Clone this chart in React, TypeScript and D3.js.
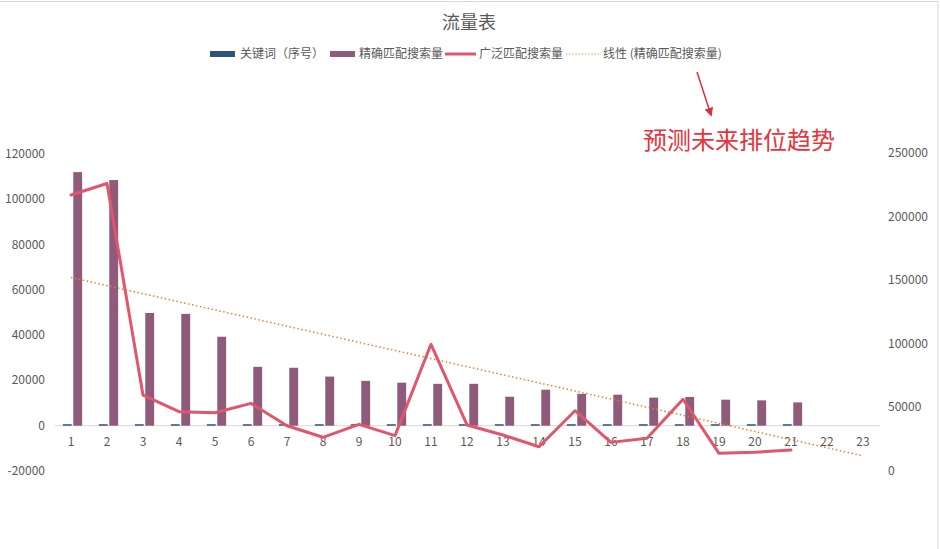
import * as d3 from 'd3';

// categories on the x axis (21 with data, 2 forecast periods)
const categories = d3.range(1, 24).map(String);
const dataCount = 21;

// 关键词（序号）
const keywordIndex = [1, 2, 3, 4, 5, 6, 7, 8, 9, 10, 11, 12, 13, 14, 15, 16, 17, 18, 19, 20, 21];
// 精确匹配搜索量 (left axis)
const exactSearch = [
  112000, 108500, 49800, 49400, 39300, 26000, 25600, 21700, 19800, 19000, 18500,
  18500, 12800, 15900, 14100, 13700, 12400, 12700, 11500, 11200, 10300,
];
// 广泛匹配搜索量 (right axis)
const broadSearch = [
  217000, 226000, 59700, 46600, 45800, 53200, 35600, 26500, 36700, 27800, 99600,
  36200, 28300, 19100, 47400, 22500, 25700, 56400, 13900, 14700, 16500,
];

const leftTicks = [-20000, 0, 20000, 40000, 60000, 80000, 100000, 120000];
const rightTicks = [0, 50000, 100000, 150000, 200000, 250000];

const legendItems = [
  { label: '关键词（序号）', kind: 'bar', color: '#2f5576', x: 210, tx: 240 },
  { label: '精确匹配搜索量', kind: 'bar', color: '#8e5b7b', x: 330, tx: 359 },
  { label: '广泛匹配搜索量', kind: 'line', color: '#e0566c', x: 445, tx: 479 },
  { label: '线性 (精确匹配搜索量)', kind: 'dot', color: '#ed7d31', x: 566, tx: 603 },
];

const FONT = '"Noto Sans CJK SC", "Noto Sans", sans-serif';
const TEXT = '#595959';

const App = () => {
  const width = 940;
  const height = 549;

  const x = d3.scaleBand<string>().domain(categories).range([53, 881]).padding(0);
  // bar pair sits slightly right of the band centre
  const inner = d3
    .scaleBand<string>()
    .domain(['kw', 'exact'])
    .range([1.5, x.bandwidth() + 1.5])
    .paddingInner(0.15)
    .paddingOuter(0.8);
  const yLeft = d3.scaleLinear().domain([-20000, 120000]).range([471, 154]);
  const yRight = d3.scaleLinear().domain([0, 250000]).range([471, 153]);
  const cx = (c: string) => (x(c) || 0) + x.bandwidth() / 2;

  // linear trendline (least squares) of the exact-match series, extended to 23
  const xs = d3.range(1, dataCount + 1);
  const mx = d3.mean(xs) || 0;
  const my = d3.mean(exactSearch) || 0;
  const sxy = d3.sum(xs, (v, i) => (v - mx) * (exactSearch[i] - my));
  const sxx = d3.sum(xs, (v) => (v - mx) ** 2);
  const slope = sxy / sxx;
  const trend = (v: number) => my + slope * (v - mx);

  const broadLine = d3
    .line<number>()
    .x((_, i) => cx(categories[i]))
    .y((d) => yRight(d));

  const zero = yLeft(0);

  return (
    <svg
      width={width}
      height={height}
      style={{ position: 'fixed', left: 0, top: 0, background: '#fff', fontFamily: FONT }}
    >
      <defs>
        <marker id='arrow' viewBox='0 0 10 10' refX='8' refY='5' markerWidth='6' markerHeight='6' orient='auto'>
          <path d='M0,0 L10,5 L0,10 z' fill='#d9303a' />
        </marker>
      </defs>
      <line x1={0} x2={938} y1={1.5} y2={1.5} stroke='#d9d9d9' />
      <line x1={938} x2={938} y1={1.5} y2={height} stroke='#d9d9d9' />

      <text x={469} y={29} textAnchor='middle' fontSize={18} fill={TEXT}>
        流量表
      </text>

      {/* Legend */}
      {legendItems.map((it) => (
        <g key={it.label}>
          {it.kind === 'bar' && <rect x={it.x} y={51} width={25} height={6} fill={it.color} />}
          {it.kind === 'line' && (
            <line x1={it.x} x2={it.x + 31} y1={54} y2={54} stroke={it.color} strokeWidth={3} />
          )}
          {it.kind === 'dot' && (
            <line x1={it.x} x2={it.x + 33} y1={54} y2={54} stroke={it.color} strokeWidth={1.2} strokeDasharray='1.2 2' />
          )}
          <text x={it.tx} y={58} fontSize={12} fill={TEXT}>
            {it.label}
          </text>
        </g>
      ))}

      {/* Annotation */}
      <line x1={697} y1={72} x2={711} y2={115} stroke='#d9303a' strokeWidth={1.5} markerEnd='url(#arrow)' />
      <text x={643} y={149} fontSize={24} fill='#e8323c'>
        预测未来排位趋势
      </text>

      {/* Axis labels */}
      {leftTicks.map((t) => (
        <text key={'l' + t} x={45} y={yLeft(t) + 4} textAnchor='end' fontSize={12} fill={TEXT}>
          {t}
        </text>
      ))}
      {rightTicks.map((t) => (
        <text key={'r' + t} x={888} y={yRight(t) + 4} fontSize={12} fill={TEXT}>
          {t}
        </text>
      ))}

      <line x1={55} x2={880} y1={zero} y2={zero} stroke='#d9d9d9' />

      {categories.map((c) => (
        <text key={'c' + c} x={cx(c)} y={446} textAnchor='middle' fontSize={12} fill={TEXT}>
          {c}
        </text>
      ))}

      {/* Bars */}
      {keywordIndex.map((v, i) => {
        const h = Math.max(zero - yLeft(v), 1.5);
        return (
          <rect
            key={'k' + i}
            x={(x(categories[i]) || 0) + (inner('kw') || 0)}
            y={zero - h}
            width={inner.bandwidth()}
            height={h}
            fill='#2f5576'
          />
        );
      })}
      {exactSearch.map((v, i) => (
        <rect
          key={'e' + i}
          x={(x(categories[i]) || 0) + (inner('exact') || 0)}
          y={yLeft(v)}
          width={inner.bandwidth()}
          height={zero - yLeft(v)}
          fill='#8e5b7b'
        />
      ))}

      {/* Trendline */}
      <line
        x1={cx('1')}
        y1={yLeft(trend(1))}
        x2={cx('23')}
        y2={yLeft(trend(23))}
        stroke='#ed7d31'
        strokeWidth={1.5}
        strokeDasharray='1.5 2.5'
      />

      {/* Broad search line */}
      <path
        d={broadLine(broadSearch) || ''}
        fill='none'
        stroke='#e0566c'
        strokeWidth={3}
        strokeLinejoin='round'
        strokeLinecap='round'
      />
    </svg>
  );
};

export default App;
